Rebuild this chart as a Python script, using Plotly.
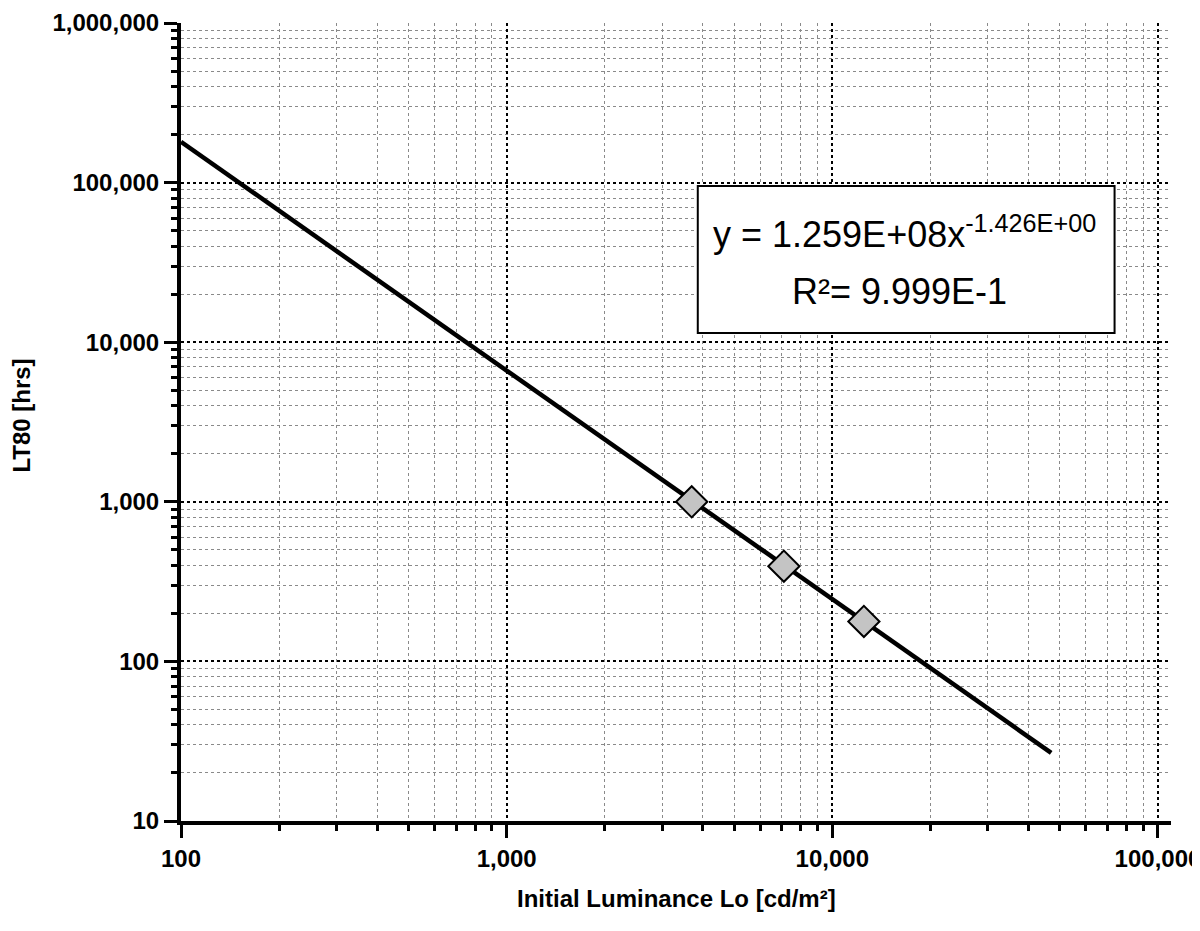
import plotly.graph_objects as go

# Data
lum_points = [3700, 7100, 12500]          # Initial luminance [cd/m2]
lt80_points = [1000, 395, 178]            # LT80 [hrs]
fit_x = [100, 47000]                       # fit line end points
fit_y = [180000, 26.7]

x_tickvals = [100, 1000, 10000, 100000]
x_ticktext = ["100", "1,000", "10,000", "100,000"]
y_tickvals = [10, 100, 1000, 10000, 100000, 1000000]
y_ticktext = ["10", "100", "1,000", "10,000", "100,000", "1,000,000"]

x_minor = [m * 10 ** e for e in range(2, 6) for m in range(2, 10) if m * 10 ** e < 110000]
y_minor = [m * 10 ** e for e in range(1, 6) for m in range(2, 10)]

FONT = "Liberation Sans, Arial, Helvetica, sans-serif"

fig = go.Figure()
fig.add_trace(go.Scatter(x=fit_x, y=fit_y, mode="lines",
                         line=dict(color="black", width=4.5), showlegend=False))
fig.add_trace(go.Scatter(x=lum_points, y=lt80_points, mode="markers",
                         marker=dict(symbol="diamond", size=24, color="#c4c4c4",
                                     line=dict(color="black", width=2)),
                         showlegend=False))

axis_common = dict(
    type="log",
    showline=True, linecolor="black", linewidth=4,
    ticks="outside", ticklen=13, tickwidth=3, tickcolor="black",
    showgrid=True, gridcolor="black", griddash="dot", gridwidth=1.5,
    tickfont=dict(family=FONT, size=24, color="black", weight="bold"),
    zeroline=False, automargin=False,
)

fig.update_xaxes(**axis_common, range=[2, 5.04],
                 tickmode="array", tickvals=x_tickvals, ticktext=x_ticktext,
                 minor=dict(tickmode="array", tickvals=x_minor, ticks="outside",
                            ticklen=6, tickwidth=3, tickcolor="black",
                            showgrid=True, gridcolor="#8a8a8a", griddash="dot", gridwidth=1))
fig.update_yaxes(**axis_common, range=[1, 6],
                 tickmode="array", tickvals=y_tickvals, ticktext=y_ticktext,
                 minor=dict(tickmode="array", tickvals=y_minor, ticks="outside",
                            ticklen=6, tickwidth=3, tickcolor="black",
                            showgrid=True, gridcolor="#8a8a8a", griddash="dot", gridwidth=1))

fig.add_shape(type="rect", xref="paper", yref="paper",
              x0=0.522, x1=0.943, y0=0.6115, y1=0.7957,
              line=dict(color="black", width=2), fillcolor="white", layer="above")

fig.add_annotation(xref="paper", yref="paper", x=0.731, y=0.738,
                   text="y = 1.259E+08x<sup>-1.426E+00</sup>", showarrow=False,
                   xanchor="center", yanchor="middle",
                   font=dict(family=FONT, size=36, color="black"))
fig.add_annotation(xref="paper", yref="paper", x=0.726, y=0.664,
                   text="R²= 9.999E-1", showarrow=False,
                   xanchor="center", yanchor="middle",
                   font=dict(family=FONT, size=36, color="black"))

fig.add_annotation(xref="paper", yref="paper", x=-0.1606, y=0.508,
                   text="LT80 [hrs]", textangle=-90, showarrow=False,
                   xanchor="center", yanchor="middle",
                   font=dict(family=FONT, size=24, color="black", weight="bold"))
fig.add_annotation(xref="paper", yref="paper", x=0.501, y=-0.0777,
                   text="Initial Luminance Lo [cd/m²]", showarrow=False,
                   xanchor="center", yanchor="top",
                   font=dict(family=FONT, size=24, color="black", weight="bold"))

fig.update_layout(width=1200, height=931,
                  margin=dict(l=173, r=37, t=15, b=118, autoexpand=False),
                  plot_bgcolor="white", paper_bgcolor="white")

fig.write_html("out.html")
